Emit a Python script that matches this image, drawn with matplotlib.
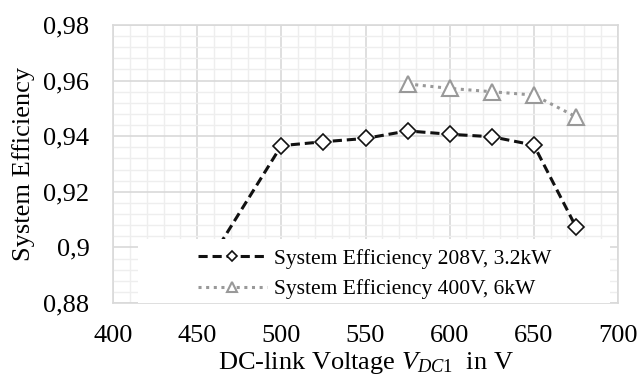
import matplotlib.pyplot as plt
from matplotlib.patches import Rectangle
from matplotlib.ticker import MultipleLocator, FuncFormatter

plt.rcParams['font.family'] = 'Liberation Serif'
plt.rcParams['mathtext.fontset'] = 'custom'
plt.rcParams['mathtext.rm'] = 'Liberation Serif'
plt.rcParams['mathtext.it'] = 'Liberation Serif:italic'

# efficiency measurements
v_208 = [450, 500, 525, 550, 575, 600, 625, 650, 675]
eff_208 = [0.888, 0.9366, 0.938, 0.9392, 0.9419, 0.9407, 0.9398, 0.9368, 0.9074]
v_400 = [575, 600, 625, 650, 675]
eff_400 = [0.9588, 0.9572, 0.956, 0.9548, 0.947]

fig = plt.figure(figsize=(6.4, 3.79), dpi=100)
ax = fig.add_axes([113 / 640, 1 - 303 / 379, 505 / 640, 278 / 379])

ax.plot(v_208, eff_208, color='#111111', ls=(0, (3, 1.6)), lw=2.2,
        marker='D', ms=8, mfc='white', mec='#111111', mew=1.2,
        label='System Efficiency 208V, 3.2kW', zorder=3)
ax.plot(v_400, eff_400, color='#999999', ls=(0, (1, 1.5)), lw=2.2,
        marker='^', ms=12, mfc='white', mec='#999999', mew=1.5,
        label='System Efficiency 400V, 6kW', zorder=3)

ax.set_xlim(400, 700)
ax.set_ylim(0.88, 0.98)
ax.xaxis.set_major_locator(MultipleLocator(50))
ax.xaxis.set_minor_locator(MultipleLocator(10))
ax.yaxis.set_major_locator(MultipleLocator(0.02))
ax.yaxis.set_minor_locator(MultipleLocator(0.004))
ax.yaxis.set_major_formatter(FuncFormatter(
    lambda v, p: f'{v:.2f}'.rstrip('0').replace('.', ',')))

ax.grid(which='major', color='#d9d9d9', lw=1.2)
ax.grid(which='minor', color='#eeeeee', lw=1)
ax.set_axisbelow(True)
for s in ax.spines.values():
    s.set_color('#d9d9d9')
    s.set_linewidth(1.2)
ax.tick_params(which='both', length=0, labelsize=19)
ax.tick_params(axis='y', pad=17)
ax.tick_params(axis='x', pad=16)

ax.set_ylabel('System Efficiency', fontsize=19, labelpad=6)
ax.set_xlabel(r'DC-link Voltage $V_{DC1}$  in V', fontsize=19, labelpad=2)

# white legend area covering the lower part of the plot
ax.add_patch(Rectangle((0.05, 0.0), 0.934, 0.23, transform=ax.transAxes,
                       facecolor='white', edgecolor='none', zorder=4))

leg = ax.legend(loc='upper left', bbox_to_anchor=(0.168, 0.196), fontsize=15.5,
                frameon=False, handlelength=3.2, handletextpad=0.35,
                borderpad=0, borderaxespad=0, labelspacing=0.5, markerscale=0.6)
leg.set_zorder(5)

fig.savefig('out.png', dpi=100)
